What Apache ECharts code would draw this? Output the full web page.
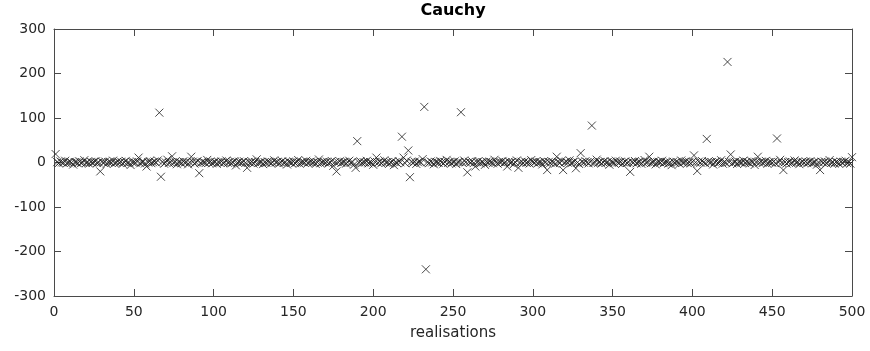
<!DOCTYPE html>
<html>
<head>
<meta charset="utf-8">
<script src="https://cdn.jsdelivr.net/npm/echarts@6/dist/echarts.min.js"></script>
<style>
  html, body { margin: 0; padding: 0; background: #fff; }
  #chart { width: 870px; height: 351px; }
</style>
</head>
<body>
<div id="chart"></div>
<script>
// 500 Cauchy realisations, in order (realisation 1 .. 500)
const values = [
  19, 0.8, -1.4, 2.3, 0.2, -0.6, 3.9, -2.1, 0.5, 1.7, -0.3, -4.6, 1.1, 0.4, -1.9, 2.8, -0.9, 0.1, 5.2, -1.2,
  0.7, -2.6, 1.5, -0.2, 0.9, 3.1, -1.1, 0.3, -20, 1.8, -0.5, 2.2, -3.4, 0.6, 1.3, -0.8, 4.1, -1.6, 0.2, 2.5,
  -0.4, 1.9, -2.9, 0.7, 3.6, -1.3, 0.1, -5.7, 1.2, 0.8, -0.7, 2.4, 11, -1.8, 0.4, 1.6, -2.2, -9, 0.9, 3.3,
  -1.5, 0.6, 2.1, -0.1, 4.7, 112, -32, 1.4, -2.7, 0.3, 6.3, -1.0, 0.8, 14, -0.6, 2.0, -3.8, 1.1, 0.5, -1.7,
  2.6, -0.3, 1.0, -4.1, 0.6, 13, 1.9, -2.4, 0.2, 3.5, -24, -0.9, 1.4, 0.7, -1.2, 5.8, -0.5, 2.3, -1.8, 0.4,
  1.6, -3.0, 0.9, -0.2, 2.7, -1.4, 0.3, 4.4, -0.8, 1.2, -2.0, 0.6, 3.2, -6.6, 0.1, 1.8, -1.1, 0.5, 2.9, -0.7,
  -12, 1.3, -0.4, 2.1, -2.5, 0.8, 7.1, -1.3, 0.2, 1.5, -3.6, 0.9, -0.6, 2.4, 1.0, -1.9, 0.3, 4.9, -0.1, 1.7,
  -2.3, 0.5, 3.0, -1.0, 0.7, -4.4, 1.9, 0.1, -0.9, 2.6, -1.5, 0.4, 5.5, -2.8, 1.2, 0.6, -0.3, 3.7, -1.2, 0.9,
  2.2, -0.5, 1.1, -3.2, 0.3, 6.8, -1.7, 0.8, 1.4, -0.2, 2.0, -2.1, 0.6, 3.4, -7.4, 1.0, -20, 0.2, 2.8, -1.0,
  0.5, 1.6, -2.6, 0.9, 4.0, -0.7, 1.3, -4.8, -12, 48, 0.4, 2.5, -1.4, 0.7, -0.1, 3.8, -2.0, 1.1, 0.3, -5.1,
  1.7, 11, -0.6, 2.3, -1.8, 0.8, 5.0, -0.4, 1.2, -2.9, 0.1, 2.7, -6, 0.9, -1.3, 3.3, 0.5, 58, 11, -1.6,
  4.3, 27, -33, 1.4, -0.8, 2.1, -3.1, 0.6, 1.9, -0.3, 7.6, 125, -240, 0.7, -1.5, 2.4, 0.2, -4.0, 1.5, 0.9,
  -1.1, 3.6, 0.4, -2.4, 1.0, 5.9, -0.6, 1.8, -1.9, 0.3, 2.6, -3.5, 0.8, 1.2, 113, -0.9, 4.5, 0.5, -22, 1.6,
  -0.2, 2.9, -1.4, -9, 0.7, 3.1, -2.2, 1.1, 0.4, -5.3, 1.9, -0.5, 2.2, 0.9, -1.7, 6.1, 0.1, -2.7, 1.4, 0.6,
  3.5, -1.0, 0.8, -9, 2.0, -0.3, 1.3, -3.9, 0.5, 4.6, -12, 0.2, 1.7, -1.2, 2.8, -0.7, 0.9, -2.3, 5.4, 1.0,
  -0.4, 2.4, -1.6, 0.3, 1.1, -4.3, 3.0, 0.6, -17, 1.5, -0.9, 2.1, 0.4, -2.6, 13, 0.8, -1.3, 3.7, -17, 0.2,
  1.9, -0.6, 4.8, -1.8, 0.7, 2.5, -13, 0.1, -3.3, 21, 1.2, -0.4, 2.9, 0.5, -2.0, 1.6, 83, -1.1, 0.3, 6.4,
  -0.8, 1.4, -2.5, 0.9, 3.2, -0.2, 1.0, -5.0, 2.3, 0.6, -1.5, 4.1, 0.4, -0.7, 1.8, -3.1, 0.2, 2.7, -1.2, 0.8,
  -21, 1.3, -0.3, 3.4, -1.9, 0.5, 2.0, -2.8, 0.7, 5.6, -0.6, 1.1, 13, -1.4, 0.3, 2.6, -4.2, 0.9, 1.5, -0.1,
  3.9, -1.7, 0.6, 1.2, -2.4, 0.2, -6, 2.2, -0.9, 1.4, 0.4, -3.0, 4.4, -0.5, 1.0, 2.8, -1.3, 0.7, -2.1, 1.6,
  16, 0.3, -19, 1.9, -0.8, 3.3, 0.5, -1.6, 53, 2.1, -0.2, 1.2, -4.5, 0.8, 2.6, -1.0, 0.1, 5.1, -2.7, 1.5,
  -0.6, 226, 0.9, 18, -1.9, 0.4, 2.3, -3.4, 1.0, 0.6, -0.3, 4.2, -1.4, 1.7, 0.2, -2.2, 3.0, 0.7, -5.5, 1.3,
  13, -0.5, 2.0, -1.1, 0.3, 3.6, -2.9, 0.8, 1.4, -0.7, 2.5, -1.8, 54, 0.5, 6.0, -0.4, -17, 1.1, -2.3, 0.9,
  2.7, -1.2, 0.4, 4.6, -0.9, 1.6, -3.7, 0.2, 1.9, -0.6, 2.2, -1.5, 0.7, 3.1, -2.0, 0.5, 1.3, -4.9, 0.8, -17,
  1.8, -0.3, 2.4, -1.7, 0.6, 5.3, -1.0, 0.9, -2.5, 1.2, 0.3, -3.2, 2.0, -0.8, 1.5, 4.0, -1.4, 0.7, -2.6, 12
];

// axis ranges and tick steps
const xRange = [0, 500];
const xStep = 50;
const yRange = [-300, 300];
const yStep = 100;

const titleText = 'Cauchy';
const xTitle = 'realisations';

const FONT = 'DejaVu Sans';
const AXIS_COLOR = '#4a4a4a';
const TEXT_COLOR = '#262626';

const points = values.map((v, i) => [i + 1, v]);

function axisBase(showLabels) {
  return {
    type: 'value',
    axisLine: { show: true, onZero: false, lineStyle: { color: AXIS_COLOR, width: 1 } },
    axisTick: { show: true, inside: true, length: 7, lineStyle: { color: AXIS_COLOR, width: 1 } },
    axisLabel: {
      show: showLabels,
      color: TEXT_COLOR,
      fontFamily: FONT,
      fontSize: 14
    },
    splitLine: { show: false }
  };
}

const chart = echarts.init(document.getElementById('chart'), null, { renderer: 'canvas' });

chart.setOption({
  animation: false,
  backgroundColor: '#ffffff',
  grid: { left: 54, right: 18, top: 29, bottom: 55, containLabel: false },
  xAxis: [
    Object.assign(axisBase(true), {
      position: 'bottom',
      min: xRange[0], max: xRange[1], interval: xStep,
      name: xTitle,
      nameLocation: 'middle',
      nameGap: 30,
      nameTextStyle: { color: TEXT_COLOR, fontFamily: FONT, fontSize: 15 },
      axisLabel: { show: true, color: TEXT_COLOR, fontFamily: FONT, fontSize: 14, margin: 9 }
    }),
    Object.assign(axisBase(false), {
      position: 'top',
      min: xRange[0], max: xRange[1], interval: xStep
    })
  ],
  yAxis: [
    Object.assign(axisBase(true), {
      position: 'left',
      min: yRange[0], max: yRange[1], interval: yStep,
      axisLabel: { show: true, color: TEXT_COLOR, fontFamily: FONT, fontSize: 14, margin: 8 }
    }),
    Object.assign(axisBase(false), {
      position: 'right',
      min: yRange[0], max: yRange[1], interval: yStep
    })
  ],
  graphic: [{
    type: 'text',
    x: 453,
    y: 11,
    style: {
      text: titleText,
      align: 'center',
      verticalAlign: 'middle',
      fill: '#000',
      font: 'bold 16px "DejaVu Sans"'
    }
  }],
  series: [{
    type: 'scatter',
    xAxisIndex: 0,
    yAxisIndex: 0,
    data: points,
    symbol: 'path://M0,0L10,10M10,0L0,10',
    symbolSize: 8,
    itemStyle: { color: 'rgba(0,0,0,0)', borderColor: '#1e1e1e', borderWidth: 1 },
    emphasis: { disabled: true },
    silent: true
  }]
});
</script>
</body>
</html>
